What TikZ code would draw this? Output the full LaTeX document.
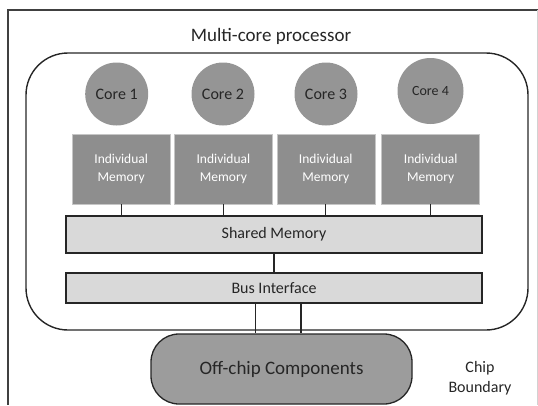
\documentclass[tikz,border=0pt]{standalone}
\usepackage{fontspec}
\setmainfont{Carlito}
\definecolor{coregray}{HTML}{959595}
\definecolor{memgray}{HTML}{8E8E8E}
\definecolor{lightbox}{HTML}{D9D9D9}
\definecolor{offgray}{HTML}{9C9C9C}
\definecolor{ink}{HTML}{262626}
\begin{document}
\begin{tikzpicture}[x=1pt,y=-1pt,
  corenode/.style={circle,fill=coregray,draw=none,minimum size=63pt,inner sep=0pt,text=ink,font=\fontsize{16}{18}\selectfont},
  memnode/.style={rectangle,fill=memgray,draw=gray!45,line width=0.6pt,minimum width=98pt,minimum height=70pt,inner sep=0pt,text=white,align=center,font=\fontsize{13.5}{17.5}\selectfont},
  barnode/.style={rectangle,fill=lightbox,draw=black!85,line width=1.3pt,minimum width=416pt,inner sep=0pt,text=ink,font=\fontsize{16}{18}\selectfont},
  offnode/.style={rectangle,rounded corners=28pt,fill=offgray,draw=black!85,line width=1.3pt,minimum width=261pt,minimum height=70pt,inner sep=0pt,text=ink,font=\fontsize{19}{21}\selectfont},
  link/.style={draw=black!85,line width=1.1pt},
  lbl/.style={text=ink,inner sep=0pt}
]
\useasboundingbox (0,0) rectangle (538,405);
% chip boundary
\draw[black!75,line width=1.8pt] (538,10) -- (8,10) -- (8,405);
\draw[gray!35,line width=0.8pt] (537,10) -- (537,405);
\node[lbl,font=\fontsize{19}{21}\selectfont] (title) at (271,36) {Multi-core processor};
% processor
\draw[black!85,line width=1.4pt,rounded corners=42pt] (26,53) rectangle (528,330);
% cores
\node[corenode] (c1) at (116.7,94) {Core 1};
\node[corenode] (c2) at (223,94) {Core 2};
\node[corenode] (c3) at (326,94) {Core 3};
\node[corenode,minimum size=66pt,font=\fontsize{14}{16}\selectfont] (c4) at (430.5,91) {Core 4};
% individual memories
\node[memnode] (m1) at (121.2,169) {Individual\\Memory};
\node[memnode] (m2) at (223.4,169) {Individual\\Memory};
\node[memnode] (m3) at (325.8,169) {Individual\\Memory};
\node[memnode] (m4) at (430.7,169) {Individual\\Memory};
% shared memory and bus
\node[barnode,minimum height=37pt] (sh) at (274,234.5) {Shared Memory};
\node[barnode,minimum height=30pt] (bus) at (274,288) {Bus Interface};
% off chip
\node[offnode] (off) at (281.5,369) {Off-chip Components};
\node[lbl,align=center,font=\fontsize{16}{20.5}\selectfont] (cb) at (480,378) {Chip\\Boundary};
% connectors
\foreach \i in {1,2,3,4} {\draw[link] (m\i.south) -- (m\i.south |- sh.north);}
\draw[link] (sh.south) -- (bus.north);
\coordinate (b1) at ([xshift=-18.5pt]bus.south);
\coordinate (b2) at ([xshift=27pt]bus.south);
\draw[link] (b1) -- (b1 |- off.north);
\draw[link] (b2) -- (b2 |- off.north);
\end{tikzpicture}
\end{document}
